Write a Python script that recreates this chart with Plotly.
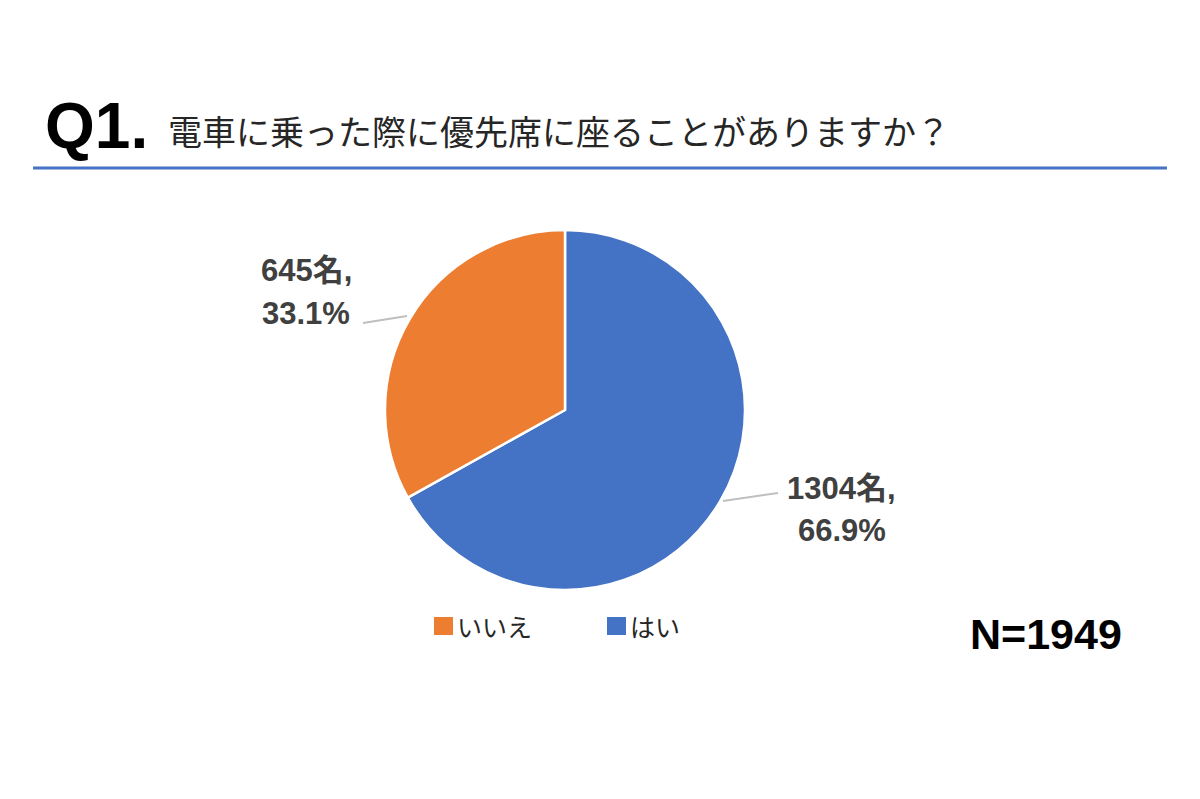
import plotly.graph_objects as go

# データ
labels = ["いいえ", "はい"]
counts = [645, 1304]
colors = ["#ED7D31", "#4472C4"]
title_q = "Q1."
title_text = "電車に乗った際に優先席に座ることがありますか？"
n_text = "N=1949"

W, H = 1200, 799
OFF = 8  # ページ本体の余白ぶん


def px(x):
    return (x - OFF) / W


def py(y):
    return 1 - (y - OFF) / H


total = sum(counts)
pcts = [c / total * 100 for c in counts]

fig = go.Figure()

# 「はい」を12時から時計回りに描く
fig.add_trace(go.Pie(
    labels=labels[::-1],
    values=counts[::-1],
    sort=False,
    direction="clockwise",
    rotation=0,
    marker=dict(colors=colors[::-1], line=dict(color="white", width=2.5)),
    textinfo="none",
    hoverinfo="label+value+percent",
    showlegend=False,
    domain=dict(x=[px(385), px(745)], y=[py(590), py(230)]),
))

font_lab = "Liberation Sans, Arial, Noto Sans CJK JP"
font_jp = "Noto Sans CJK JP, Liberation Sans"

# ラベル（外側）と引き出し線
label_pos = {
    "いいえ": dict(x=306, y1=270, y2=313, lx=(363, 407), ly=(323, 316)),
    "はい": dict(x=842, y1=488, y2=530, lx=(723, 778), ly=(501, 493)),
}
for lab, c, p in zip(labels, counts, pcts):
    pos = label_pos[lab]
    for txt, yy in ((f"<b>{c}名,</b>", pos["y1"]), (f"<b>{p:.1f}%</b>", pos["y2"])):
        fig.add_annotation(
            x=px(pos["x"]), y=py(yy), xref="paper", yref="paper",
            xanchor="center", yanchor="middle",
            text=txt, showarrow=False,
            font=dict(family=font_lab, size=31, color="#404040"),
        )
    fig.add_shape(
        type="line", xref="paper", yref="paper",
        x0=px(pos["lx"][0]), x1=px(pos["lx"][1]),
        y0=py(pos["ly"][0]), y1=py(pos["ly"][1]),
        line=dict(color="#BFBFBF", width=2),
    )

# 凡例（手描き）
legend_x = [434, 607]
legend_y = 626
for lab, col, lx in zip(labels, colors, legend_x):
    fig.add_shape(
        type="rect", xref="paper", yref="paper",
        x0=px(lx), x1=px(lx + 19), y0=py(legend_y + 9), y1=py(legend_y - 9),
        fillcolor=col, line=dict(width=0),
    )
    fig.add_annotation(
        x=px(lx + 21), y=py(legend_y), xref="paper", yref="paper",
        xanchor="left", yanchor="middle",
        text=lab, showarrow=False,
        font=dict(family=font_jp, size=25, color="#262626"),
    )

# タイトル
fig.add_annotation(
    x=px(43), y=py(126), xref="paper", yref="paper",
    xanchor="left", yanchor="middle",
    text=f"<b>{title_q}</b>", showarrow=False,
    font=dict(family="Liberation Sans, Arial", size=64, color="#000000"),
)
fig.add_annotation(
    x=px(166), y=py(131), xref="paper", yref="paper",
    xanchor="left", yanchor="middle",
    text=title_text, showarrow=False,
    font=dict(family=font_jp, size=34, color="#262626"),
)
fig.add_shape(
    type="line", xref="paper", yref="paper",
    x0=px(33), x1=px(1167), y0=py(168), y1=py(168),
    line=dict(color="#4472C4", width=3),
)

# N
fig.add_annotation(
    x=px(1046), y=py(634), xref="paper", yref="paper",
    xanchor="center", yanchor="middle",
    text=f"<b>{n_text}</b>", showarrow=False,
    font=dict(family="Liberation Sans, Arial", size=43, color="#000000"),
)

fig.update_layout(
    width=W, height=H,
    margin=dict(l=0, r=0, t=0, b=0),
    paper_bgcolor="white",
    plot_bgcolor="white",
    showlegend=False,
)

fig.write_html("out.html")
